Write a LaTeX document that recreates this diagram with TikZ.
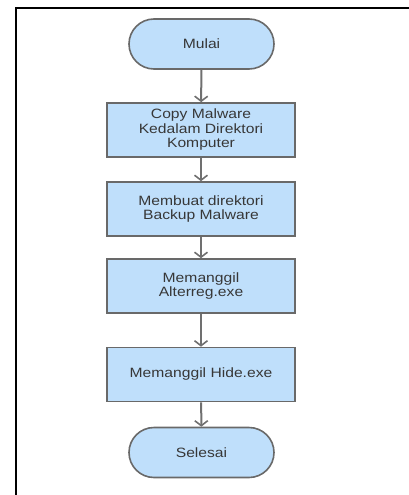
\documentclass[tikz,border=0pt]{standalone}
\usepackage{fontspec}
\setmainfont[FakeStretch=1.16]{Liberation Sans}
\usetikzlibrary{arrows.meta,shapes.misc}
\definecolor{boxfill}{RGB}{191,223,251}
\definecolor{boxline}{RGB}{105,105,105}
\definecolor{flowline}{RGB}{112,112,112}
\definecolor{txt}{RGB}{55,55,55}
\begin{document}
\begin{tikzpicture}[x=1pt,y=-1pt,
  base/.style={draw=boxline, fill=boxfill, line width=1.6pt, text=txt,
    font=\fontsize{13.5}{14.5}\selectfont, align=center, inner sep=0pt},
  process/.style={base, rectangle, minimum width=188pt, minimum height=54pt},
  terminal/.style={base, rounded rectangle, minimum width=145pt, minimum height=50pt},
  flow/.style={draw=flowline, line width=2pt, -{Straight Barb[length=5pt,width=13pt,line width=1.6pt]}}]
  \useasboundingbox (0,0) rectangle (409,495);
  % page frame (top and left edges)
  \draw[line width=2pt] (409,8) -- (16,8) -- (16,495);
  % flowchart
  \node[terminal] (start) at (201.5,44) {Mulai};
  \node[process] (copy) at (201,130) {Copy Malware\\Kedalam Direktori\\Komputer};
  \node[process] (backup) at (201,209) {Membuat direktori\\Backup Malware};
  \node[process] (alter) at (201,286) {Memanggil\\Alterreg.exe};
  \node[process] (hide) at (201,374.5) {Memanggil Hide.exe};
  \node[terminal] (stop) at (201.5,452.5) {Selesai};
  \draw[flow] (start) -- (copy);
  \draw[flow] (copy) -- (backup);
  \draw[flow] (backup) -- (alter);
  \draw[flow] (alter) -- (hide);
  \draw[flow] (hide) -- (stop);
\end{tikzpicture}
\end{document}
